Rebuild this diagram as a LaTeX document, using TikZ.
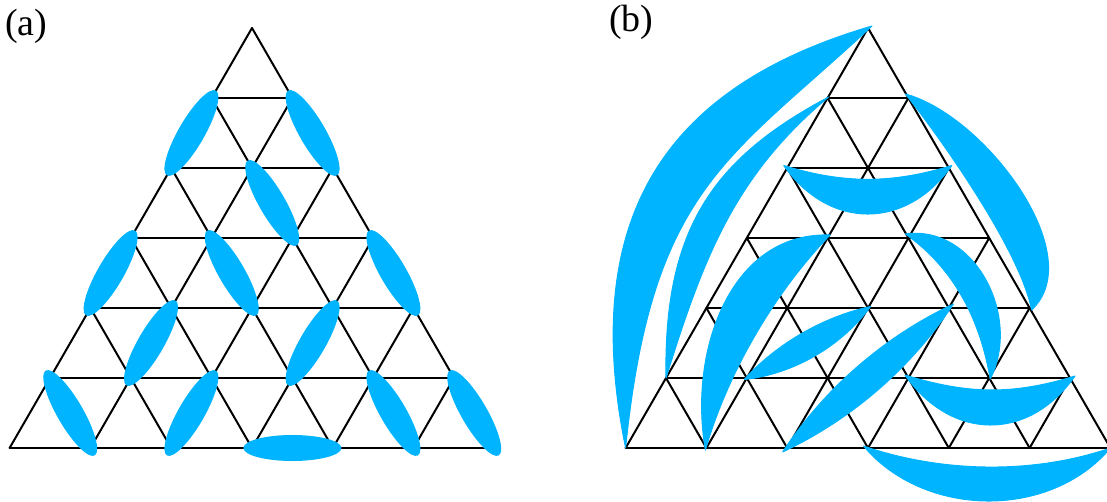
\documentclass[tikz,border=0pt]{standalone}
\usepackage{fontspec}
\setmainfont{Liberation Serif}
\usetikzlibrary{calc}
\definecolor{dimer}{RGB}{0,180,255}
\newcommand\dimerA[3]{\fill[dimer,shift={($(a-#1)!0.5!(a-#2)$)},rotate=#3] (0,0) ellipse (49pt and 13pt);}
\begin{document}
\begin{tikzpicture}[x=1pt,y=1pt,
  lat/.style={line width=2pt,black,line cap=round},
  blob/.style={fill=dimer,draw=dimer,line width=1pt,line join=round},
  lbl/.style={font=\fontsize{38}{42}\selectfont,anchor=base west,inner sep=0pt}]
\useasboundingbox (0,0) rectangle (1107,501);
% lattice vertices
\foreach \j in {0,...,6}{
  \foreach \i in {0,...,\j}{
    \coordinate (a-\i-\j) at ({252+(\i-\j/2)*80.8},{473-70*\j});
    \coordinate (b-\i-\j) at ({868+(\i-\j/2)*80.8},{473-70*\j});
  }
}
% lattice lines
\foreach \p in {a,b}{
  \foreach \k in {1,...,6}{\draw[lat] (\p-0-\k) -- (\p-\k-\k);}
  \foreach \k in {0,...,5}{
    \pgfmathtruncatemacro{\m}{6-\k}
    \draw[lat] (\p-\k-\k) -- (\p-\k-6);
    \draw[lat] (\p-0-\k) -- (\p-\m-6);
  }
}
% labels
\node[lbl] (la) at (5,465.5) {(a)};
\node[lbl] (lb) at (609,469) {(b)};
% (a) nearest-neighbour dimers
\dimerA{0-1}{0-2}{60}
\dimerA{1-1}{2-2}{120}
\dimerA{1-2}{2-3}{120}
\dimerA{0-3}{0-4}{60}
\dimerA{1-3}{2-4}{120}
\dimerA{3-3}{4-4}{120}
\dimerA{1-4}{1-5}{60}
\dimerA{3-4}{3-5}{60}
\dimerA{0-5}{1-6}{120}
\dimerA{2-5}{2-6}{60}
\dimerA{3-6}{4-6}{0}
\dimerA{4-5}{5-6}{120}
\dimerA{5-5}{6-6}{120}
% (b) tips
\coordinate (t1a) at (b-0-6);
\coordinate (t1b) at ($(b-0-0)+(4,2)$);
\coordinate (t2a) at (b-0-5);
\coordinate (t2b) at ($(b-0-1)+(1,1)$);
\coordinate (t3a) at ($(b-0-2)+(-3.5,2.5)$);
\coordinate (t3b) at ($(b-2-2)+(3,2.5)$);
\coordinate (t4a) at ($(b-1-1)+(-3,4)$);
\coordinate (t4b) at ($(b-4-4)+(2,-2)$);
\coordinate (t5a) at ($(b-1-6)+(-1,-2)$);
\coordinate (t5b) at ($(b-1-3)+(2.5,3)$);
\coordinate (t6a) at ($(b-2-3)+(-3,4)$);
\coordinate (t6b) at ($(b-4-5)+(1,-1)$);
\coordinate (t7a) at ($(b-1-5)!-3pt!(b-2-4)$);
\coordinate (t7b) at ($(b-2-4)!-3pt!(b-1-5)$);
\coordinate (t8a) at ($(b-2-6)!-6pt!(b-3-4)$);
\coordinate (t8b) at ($(b-3-4)!-6pt!(b-2-6)$);
\coordinate (t9a) at ($(b-3-5)+(-3.5,3)$);
\coordinate (t9b) at ($(b-5-5)+(5,2)$);
\coordinate (t10a) at ($(b-3-6)+(-4.5,2)$);
\coordinate (t10b) at (b-6-6);
% (b) long-range bonds
\fill[blob] (t1a) .. controls +(101.5:242) and +(196.3:209) .. (t1b)
  .. controls +(223:195) and +(84.2:262) .. (t1a) -- cycle;
\fill[blob] (t2a) .. controls +(91:150) and +(208:130) .. (t2b)
  .. controls +(220:122) and +(72.7:128) .. (t2a) -- cycle;
\fill[blob] (t3a) .. controls +(-55:79) and +(235:79) .. (t3b)
  .. controls +(197:63) and +(-17:63) .. (t3a) -- cycle;
\fill[blob] (t4a) .. controls +(-15:82) and +(43:80) .. (t4b)
  .. controls +(101:60) and +(-51.5:60) .. (t4a) -- cycle;
\fill[blob] (t5a) .. controls +(100:100) and +(178:100) .. (t5b)
  .. controls +(226:80) and +(74:80) .. (t5a) -- cycle;
\fill[blob] (t6a) .. controls +(8:70) and +(63:70) .. (t6b)
  .. controls +(99.7:60) and +(-35.3:60) .. (t6a) -- cycle;
\fill[blob] (t7a) .. controls +(48:48) and +(192:48) .. (t7b)
  .. controls +(234:49) and +(6:49) .. (t7a) -- cycle;
\fill[blob] (t8a) .. controls +(56.7:76) and +(205.1:76) .. (t8b)
  .. controls +(236.7:76) and +(25.1:76) .. (t8a) -- cycle;
\fill[blob] (t9a) .. controls +(-55:80.6) and +(235:80.6) .. (t9b)
  .. controls +(197:66) and +(-17:66) .. (t9a) -- cycle;
\fill[blob] (t10a) .. controls +(-50:94) and +(230:94) .. (t10b)
  .. controls +(199:82) and +(-19:82) .. (t10a) -- cycle;
\end{tikzpicture}
\end{document}
